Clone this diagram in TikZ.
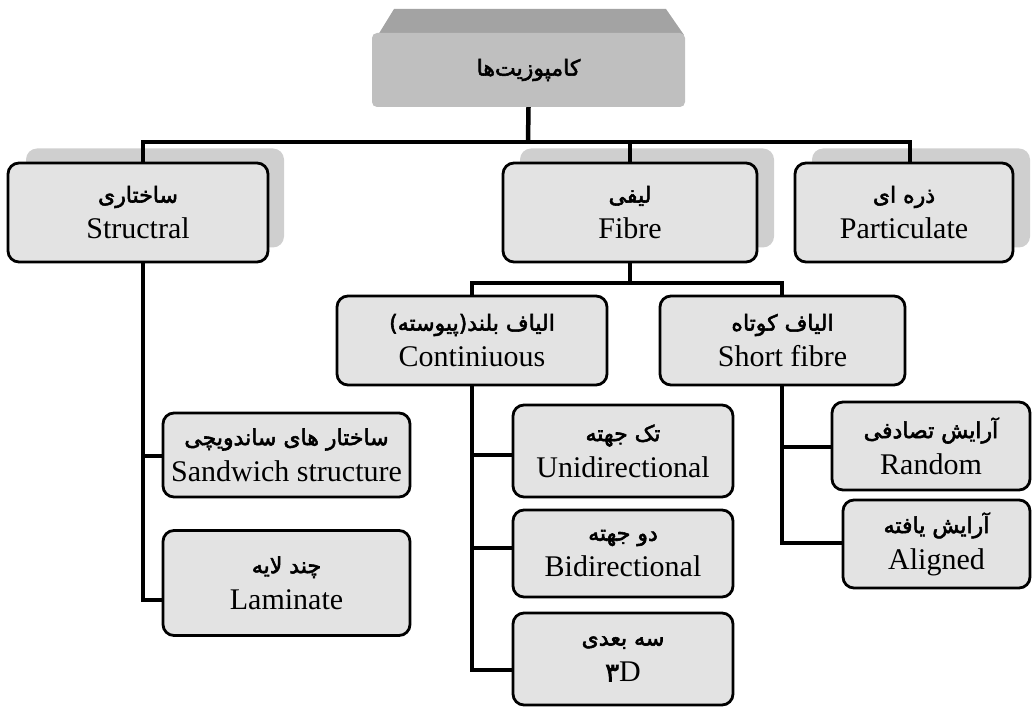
\documentclass[tikz,border=0pt]{standalone}
\usepackage{fontspec}
\setmainfont{Liberation Serif}
\newfontfamily\arabicfont[Script=Arabic,FakeBold=2.5]{DejaVu Sans}
\TeXXeTstate=1
\newcommand{\fa}[1]{{\arabicfont\fontsize{22}{24}\selectfont\beginR #1\endR}}
\begin{document}
\begin{tikzpicture}[x=1pt,y=-1pt,
  box/.style={draw, line width=2.8pt, rounded corners=11pt, fill=gray!22, align=center,
    inner sep=0pt, font=\fontsize{30}{36}\selectfont},
  shadebox/.style={fill=gray!38, rounded corners=11pt, inner sep=0pt},
  conn/.style={line width=4.5pt},
  rootbox/.style={fill=gray!50, rounded corners=5pt, inner sep=0pt}]
\useasboundingbox (0,0) rectangle (1034,708);
% root
\fill[gray!72] (378,35) -- (394,9) -- (666,9) -- (684,35) -- cycle;
\node[rootbox, minimum width=313pt, minimum height=74pt] (root) at (528.5,70) {\fa{کامپوزیت‌ها}};
% shadows of top level
\node[shadebox, minimum width=258pt, minimum height=99pt] (structsh) at (155,198) {};
\node[shadebox, minimum width=254pt, minimum height=99pt] (fibresh) at (647,198) {};
\node[shadebox, minimum width=218pt, minimum height=99pt] (partsh) at (921,198) {};
% connectors
\coordinate (bus) at (528,142);
\draw[conn] (root.south) -- (bus);
\draw[conn] (bus) -| (143,163);
\draw[conn] (bus) -| (910,163);
\draw[conn] (bus) -| (630,163);
\coordinate (fbus) at (630,283);
\draw[conn] (630,262) -- (fbus);
\draw[conn] (fbus) -| (472,296);
\draw[conn] (fbus) -| (782,296);
\coordinate (sv) at (143,262);
\draw[conn] (sv) |- (163,456);
\draw[conn] (sv) |- (163,600);
\coordinate (cv) at (472,385);
\draw[conn] (cv) |- (513,455);
\draw[conn] (cv) |- (513,548);
\draw[conn] (cv) |- (513,670);
\coordinate (fv) at (782,385);
\draw[conn] (fv) |- (832,447);
\draw[conn] (fv) |- (843,543);
% top level boxes
\node[box, minimum width=260pt, minimum height=99pt] (struct) at (138,212.5) {\fa{ساختاری}\\ Structral};
\node[box, minimum width=254pt, minimum height=99pt] (fibre) at (630,212.5) {\fa{لیفی}\\ Fibre};
\node[box, minimum width=218pt, minimum height=99pt] (part) at (904,212.5) {\fa{ذره ای}\\ Particulate};
% level 2
\node[box, minimum width=270pt, minimum height=89pt] (cont) at (472,340.5) {\fa{الیاف بلند(پیوسته)}\\ Continiuous};
\node[box, minimum width=245pt, minimum height=89pt] (short) at (782.5,340.5) {\fa{الیاف کوتاه}\\ Short fibre};
% level 3
\node[box, minimum width=247pt, minimum height=84pt] (sand) at (286.5,455) {\fa{ساختار های ساندویچی}\\ Sandwich structure};
\node[box, minimum width=247pt, minimum height=105pt] (lam) at (286.5,583) {\fa{چند لایه}\\ Laminate};
\node[box, minimum width=220pt, minimum height=92pt] (uni) at (623,451) {\fa{تک جهته}\\ Unidirectional};
\node[box, minimum width=220pt, minimum height=87pt] (bi) at (623,553.5) {\fa{دو جهته}\\ Bidirectional};
\node[box, minimum width=220pt, minimum height=92pt] (three) at (623,659) {\fa{سه بعدی}\\ {\arabicfont\fontsize{26}{30}\selectfont ۳}D};
\node[box, minimum width=198pt, minimum height=88pt] (rand) at (931,446) {\fa{آرایش تصادفی}\\ Random};
\node[box, minimum width=187pt, minimum height=88pt] (align) at (936.5,544) {\fa{آرایش یافته}\\ Aligned};
\end{tikzpicture}
\end{document}
